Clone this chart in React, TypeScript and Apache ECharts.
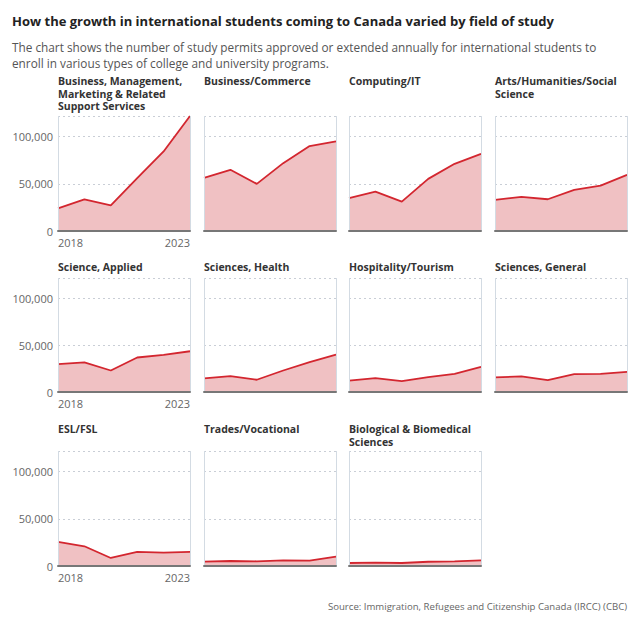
import React, { useEffect, useRef } from "react";
import * as echarts from "echarts";

const years = ["2018", "2019", "2020", "2021", "2022", "2023"];
const fieldNames = [
  "Business, Management,\nMarketing & Related\nSupport Services",
  "Business/Commerce",
  "Computing/IT",
  "Arts/Humanities/Social\nScience",
  "Science, Applied",
  "Sciences, Health",
  "Hospitality/Tourism",
  "Sciences, General",
  "ESL/FSL",
  "Trades/Vocational",
  "Biological & Biomedical\nSciences",
];
const bizMgmt = [24000, 33500, 27300, 56000, 84400, 122000];
const bizCommerce = [56400, 64900, 50000, 72000, 90100, 95000];
const computing = [34800, 41800, 31200, 55300, 71300, 81900];
const arts = [33000, 36200, 33700, 43600, 48200, 59600];
const sciApplied = [29800, 31600, 23000, 36900, 39700, 43600];
const sciHealth = [14500, 17000, 13100, 23000, 31900, 40100];
const hospitality = [12100, 14900, 11700, 16000, 19500, 26900];
const sciGeneral = [15600, 16700, 12800, 19100, 19500, 21600];
const eslFsl = [25500, 20900, 8500, 14900, 14200, 14900];
const trades = [4600, 5300, 5000, 6000, 5800, 9900];
const biological = [3200, 3600, 3200, 4500, 5000, 6000];
const seriesValues = [
  bizMgmt, bizCommerce, computing, arts,
  sciApplied, sciHealth, hospitality, sciGeneral,
  eslFsl, trades, biological,
];
const yTicks = [0, 50000, 100000];

const FONT = "'Open Sans', sans-serif";
const colLefts = [58, 204, 349, 495];
const panelWidth = 132;
const rowTops = [116, 278, 451];
const rowHeights = [115, 114, 115];
const titleTops = [75, 261, 423];

export default function App() {
  const ref = useRef<HTMLDivElement>(null);
  useEffect(() => {
    document.body.style.margin = "0";
    if (!ref.current) return;
    const chart = echarts.init(ref.current, null, { renderer: "svg" });
    const grids: any[] = [];
    const xAxes: any[] = [];
    const yAxes: any[] = [];
    const series: any[] = [];
    const titles: any[] = [
      {
        text: "How the growth in international students coming to Canada varied by field of study",
        left: 12,
        top: 14,
        padding: 0,
        textStyle: { fontFamily: FONT, fontSize: 13, fontWeight: "bold", color: "#222" },
      },
      {
        text: "The chart shows the number of study permits approved or extended annually for international students to\nenroll in various types of college and university programs.",
        left: 12,
        top: 39,
        padding: 0,
        textStyle: { fontFamily: FONT, fontSize: 11.8, fontWeight: "normal", color: "#555", lineHeight: 16 },
      },
      {
        text: "Source: Immigration, Refugees and Citizenship Canada (IRCC) (CBC)",
        right: 13,
        top: 601,
        padding: 0,
        textStyle: { fontFamily: FONT, fontSize: 9.6, color: "#666", fontWeight: "normal" },
      },
    ];
    seriesValues.forEach((vals, i) => {
      const row = Math.floor(i / 4);
      const col = i % 4;
      const firstCol = col === 0;
      grids.push({
        left: colLefts[col],
        top: rowTops[row],
        width: panelWidth,
        height: rowHeights[row],
      });
      titles.push({
        text: fieldNames[i],
        left: colLefts[col],
        top: titleTops[row],
        padding: 0,
        textStyle: {
          fontFamily: FONT,
          fontSize: 10.5,
          fontWeight: "bold",
          color: "#333",
          lineHeight: 12.5,
        },
      });
      xAxes.push({
        type: "category",
        gridIndex: i,
        data: years,
        boundaryGap: false,
        axisLine: { show: true, lineStyle: { color: "#777", width: 2 } },
        axisTick: { show: false },
        axisLabel: {
          show: firstCol,
          interval: (idx: number) => idx === 0 || idx === years.length - 1,
          alignMinLabel: "left",
          alignMaxLabel: "right",
          fontFamily: FONT,
          fontSize: 11,
          color: "#666",
          margin: 6,
        },
        splitLine: {
          show: true,
          interval: (idx: number) => idx === 0 || idx === years.length - 1,
          lineStyle: { color: "#d3dbe3", width: 1 },
        },
        z: 5,
      });
      yAxes.push({
        type: "value",
        gridIndex: i,
        min: 0,
        max: 122000,
        interval: 50000,
        axisLine: { show: false },
        axisTick: { show: false },
        axisLabel: {
          show: firstCol,
          fontFamily: FONT,
          fontSize: 11,
          color: "#666",
          margin: 5,
          formatter: (v: number) => (yTicks.includes(v) ? v.toLocaleString("en-US") : ""),
        },
        splitLine: {
          show: true,
          lineStyle: { color: "#c9ced6", type: [2, 3], width: 1 },
        },
      });
      series.push({
        type: "line",
        xAxisIndex: i,
        yAxisIndex: i,
        data: vals,
        symbol: "none",
        lineStyle: { color: "#d3262f", width: 1.8 },
        itemStyle: { color: "#d3262f" },
        areaStyle: { color: "#f0c1c3", opacity: 1 },
        z: 2,
      });
    });
    chart.setOption({
      animation: false,
      backgroundColor: "#fff",
      textStyle: { fontFamily: FONT },
      title: titles,
      grid: grids,
      xAxis: xAxes,
      yAxis: yAxes,
      series,
    });
    return () => chart.dispose();
  }, []);
  return <div ref={ref} style={{ width: 640, height: 618 }} />;
}
